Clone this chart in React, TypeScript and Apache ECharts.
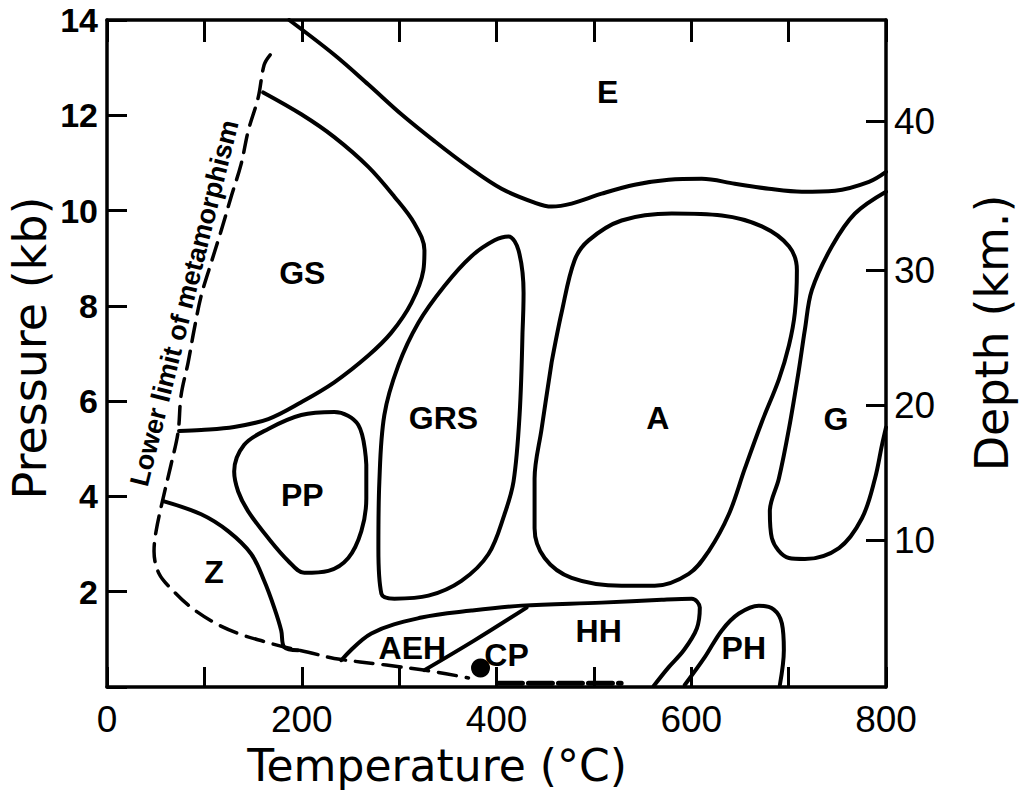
import React, { useEffect, useRef } from "react";
import * as echarts from "echarts";

// ---- data (Temperature °C, Pressure kb) ----
const lowerLimit: number[][] = [
  [167.6, 13.27], [161.4, 13.06], [155.3, 12.375], [145, 11.67], [137.8, 10.98],
  [127.5, 10.29], [117.3, 9.58], [106.9, 8.9], [96.7, 8.21], [89.5, 7.5],
  [83.3, 6.81], [76.1, 6.125], [73, 5.35], [65.8, 4.67], [57.6, 3.96],
  [50.4, 3.27], [48.3, 2.85], [53.5, 2.375], [67.9, 2.02], [86.4, 1.67],
  [112.1, 1.33], [137.8, 1.1], [160.4, 0.96], [184, 0.83], [206.7, 0.73],
  [233.4, 0.6], [286.9, 0.46], [333.2, 0.33], [371.2, 0.19],
];
const bottomDashes: number[][] = [[402, 0.08], [528, 0.08]];
const cpDot: number[][] = [[383.6, 0.4]];

const curveE: number[][] = [
  [187.1, 14.0], [233.4, 13.271], [268.4, 12.646], [302.3, 12.021], [336.3, 11.458],
  [371.2, 10.917], [405.2, 10.458], [439.1, 10.167], [456.6, 10.083], [477.1, 10.146],
  [508.0, 10.354], [541.9, 10.542], [576.9, 10.646], [610.8, 10.667], [644.7, 10.563],
  [679.7, 10.458], [713.6, 10.396], [747.6, 10.417], [782.5, 10.604], [800, 10.813],
];
const curveGS: number[][] = [
  [160.4, 12.479], [199.5, 12.021], [233.4, 11.542], [268.4, 10.917], [295.1, 10.292],
  [315.7, 9.729], [326.0, 9.167], [324.9, 8.75], [312.6, 8.063], [292.0, 7.438],
  [268.4, 6.958], [233.4, 6.396], [199.5, 5.979], [165.6, 5.625], [130.6, 5.458],
  [96.7, 5.396], [74.0, 5.375],
];
const curveZ: number[][] = [
  [58.6, 3.896], [96.7, 3.625], [124.4, 3.271], [148.1, 2.792], [161.4, 2.229],
  [171.7, 1.667], [178.9, 1.188], [182.0, 0.833], [196.4, 0.771],
];
const loopPP: number[][] = [
  [266.3, 4.667], [266.3, 3.958], [261.2, 3.271], [247.8, 2.708], [227.3, 2.438],
  [202.6, 2.396], [186.1, 2.646], [165.6, 3.125], [145.0, 3.688], [134.7, 4.104],
  [130.6, 4.521], [140.9, 5.083], [165.6, 5.417], [199.5, 5.708], [233.4, 5.771],
  [258.1, 5.5], [266.3, 4.667],
];
const loopGRS: number[][] = [
  [426.7, 7.438], [423.7, 5.708], [417.5, 4.313], [408.2, 3.625], [391.8, 2.792],
  [364.0, 2.229], [330.1, 1.917], [295.1, 1.854], [281.8, 1.958], [278.7, 2.917],
  [279.7, 4.313], [284.8, 5.708], [299.2, 6.75], [319.8, 7.646], [346.5, 8.417],
  [374.3, 9.042], [398.0, 9.375], [412.3, 9.458], [422.6, 9.167], [427.8, 8.271],
  [426.7, 7.438],
];
const loopA: number[][] = [
  [456.6, 6.813], [466.8, 7.854], [480.2, 8.958], [494.6, 9.375], [528.5, 9.792],
  [580.0, 9.938], [631.4, 9.896], [672.5, 9.667], [700.3, 9.25], [708.5, 8.75],
  [706.4, 7.854], [700.3, 7.167], [690.0, 6.458], [672.5, 5.563], [655.0, 4.583],
  [638.6, 3.625], [618.0, 2.854], [597.4, 2.375], [562.5, 2.125], [528.5, 2.125],
  [477.1, 2.292], [449.4, 2.708], [439.1, 3.333], [439.1, 4.375], [446.3, 5.417],
  [456.6, 6.813],
];
const curveG: number[][] = [
  [800, 10.396], [768.1, 9.938], [744.5, 9.25], [723.9, 8.333], [716.7, 7.5],
  [710.6, 6.667], [700.3, 5.417], [690.0, 4.375], [680.7, 3.688], [682.8, 3.125],
  [700.3, 2.708], [716.7, 2.688], [751.7, 2.917], [775.3, 3.542], [788.7, 4.375],
  [795.9, 5.083], [800, 5.45],
];
const curveHH: number[][] = [
  [240.6, 0.5625], [271.5, 1.125], [322.9, 1.458], [374.3, 1.604], [425.7, 1.708],
  [508.0, 1.771], [569.7, 1.833], [600.5, 1.854], [608.8, 1.667], [605.7, 1.229],
  [592.3, 0.771], [576.9, 0.417], [561.4, 0.021],
];
const lineAEHCP: number[][] = [[326.0, 0.354], [377.4, 0.979], [430.9, 1.667]];
const curvePH: number[][] = [
  [593.3, 0.042], [613.9, 0.625], [631.4, 1.188], [648.9, 1.542], [669.4, 1.708],
  [684.8, 1.625], [693.1, 1.333], [695.1, 0.771], [691.0, 0.042],
];

const faciesNames = ["E", "GS", "GRS", "A", "G", "PP", "Z", "AEH", "CP", "HH", "PH"];
const faciesT = [514.1, 200.5, 345.5, 565.6, 748.7, 200.5, 110, 313.6, 410.3, 504.9, 654];
const faciesP = [12.48, 8.69, 5.65, 5.65, 5.625, 4.02, 2.42, 0.81, 0.67, 1.17, 0.81];

const lowerLimitLabel = "Lower limit of metamorphism";
const lowerLimitLabelAt: number[] = [79.5, 8.06];

const depthKm = [10, 20, 30, 40];
const depthKb = [3.083, 5.917, 8.75, 11.875];

const FONT = "'Liberation Sans', 'DejaVu Sans', sans-serif";
const NARROW = "'Liberation Sans Narrow', 'Liberation Sans', sans-serif";
const TITLE_FONT = "'DejaVu Sans', sans-serif";

function curve(data: number[][], width = 4, type: any = "solid", smooth: number | boolean = 0.35) {
  return {
    type: "line",
    data,
    xAxisIndex: 0,
    yAxisIndex: 0,
    symbol: "none",
    showSymbol: false,
    smooth,
    silent: true,
    lineStyle: { color: "#000", width, type, cap: "round", join: "round" },
    z: 3,
  };
}

export default function App() {
  const ref = useRef<HTMLDivElement>(null);

  useEffect(() => {
    if (!ref.current) return;
    const chart = echarts.init(ref.current, undefined, { renderer: "svg" });
    const axisLine = { show: true, onZero: false, lineStyle: { color: "#000", width: 3.5 } };
    const tick = { show: true, inside: true, length: 20, lineStyle: { color: "#000", width: 3 } };

    const option: any = {
      animation: false,
      backgroundColor: "#fff",
      grid: { left: 107, top: 15, width: 779, height: 672, containLabel: false },
      xAxis: [
        {
          type: "value",
          position: "bottom",
          min: 0,
          max: 800,
          interval: 100,
          axisLine,
          axisTick: tick,
          splitLine: { show: false },
          axisLabel: {
            margin: 17,
            fontFamily: FONT,
            fontSize: 37,
            lineHeight: 30,
            color: "#000",
            formatter: (v: number) => (v % 200 === 0 ? String(v) : ""),
          },
        },
        {
          type: "value",
          position: "top",
          min: 0,
          max: 800,
          interval: 100,
          axisLine,
          axisTick: { ...tick, length: 22 },
          splitLine: { show: false },
          axisLabel: { show: false },
        },
      ],
      yAxis: [
        {
          type: "value",
          position: "left",
          min: 0,
          max: 14,
          interval: 2,
          axisLine,
          axisTick: tick,
          splitLine: { show: false },
          axisLabel: {
            margin: 9,
            fontFamily: FONT,
            fontWeight: "bold",
            fontSize: 34,
            lineHeight: 28,
            padding: [12, 0, 0, 0],
            color: "#000",
            formatter: (v: number) => (v === 0 ? "" : String(v)),
          },
        },
        {
          type: "value",
          position: "right",
          min: 0,
          max: 14,
          axisLine,
          axisTick: { ...tick, customValues: depthKb },
          splitLine: { show: false },
          axisLabel: {
            margin: 8,
            fontFamily: FONT,
            fontSize: 37,
            lineHeight: 30,
            padding: [10, 0, 0, 0],
            color: "#000",
            customValues: depthKb,
            formatter: (v: number) => {
              let best = 0;
              depthKb.forEach((p, i) => {
                if (Math.abs(p - v) < Math.abs(depthKb[best] - v)) best = i;
              });
              return String(depthKm[best]);
            },
          },
        },
      ],
      graphic: [
        {
          type: "text",
          x: 30,
          y: 348,
          rotation: Math.PI / 2,
          style: {
            text: "Pressure (kb)",
            font: `46px ${TITLE_FONT}`,
            fill: "#000",
            align: "center",
            verticalAlign: "middle",
          },
        },
        {
          type: "text",
          x: 437,
          y: 765,
          style: {
            text: "Temperature (°C)",
            font: `44px ${TITLE_FONT}`,
            fill: "#000",
            align: "center",
            verticalAlign: "middle",
          },
        },
        {
          type: "text",
          x: 992,
          y: 333,
          rotation: Math.PI / 2,
          style: {
            text: "Depth (km.)",
            font: `46px ${TITLE_FONT}`,
            fill: "#000",
            align: "center",
            verticalAlign: "middle",
          },
        },
      ],
      series: [
        curve(lowerLimit, 3.5, [18, 10]),
        curve(bottomDashes, 5, [24, 6], false),
        curve(curveE),
        curve(curveGS),
        curve(curveZ),
        curve(loopPP),
        curve(loopGRS),
        curve(loopA),
        curve(curveG),
        curve(curveHH),
        curve(lineAEHCP),
        curve(curvePH),
        {
          type: "scatter",
          data: cpDot,
          symbol: "circle",
          symbolSize: 19,
          itemStyle: { color: "#000", opacity: 1 },
          silent: true,
          z: 4,
        },
        {
          type: "scatter",
          data: faciesNames.map((n, i) => [faciesT[i], faciesP[i], n]),
          symbolSize: 1,
          itemStyle: { color: "#fff", opacity: 0 },
          silent: true,
          z: 5,
          label: {
            show: true,
            position: "inside",
            align: "center",
            verticalAlign: "middle",
            fontFamily: NARROW,
            fontWeight: "bold",
            fontSize: 32,
            color: "#000",
            opacity: 1,
            formatter: (p: any) => p.value[2],
          },
        },
        {
          type: "scatter",
          data: [[lowerLimitLabelAt[0], lowerLimitLabelAt[1], lowerLimitLabel]],
          symbolSize: 1,
          itemStyle: { color: "#fff", opacity: 0 },
          silent: true,
          z: 5,
          label: {
            show: true,
            position: "inside",
            align: "center",
            verticalAlign: "middle",
            rotate: 76,
            fontFamily: FONT,
            fontWeight: "bold",
            fontSize: 27,
            color: "#000",
            opacity: 1,
            formatter: (p: any) => p.value[2],
          },
        },
      ],
    };
    chart.setOption(option);
    return () => chart.dispose();
  }, []);

  return (
    <div
      ref={ref}
      style={{ position: "absolute", left: 0, top: 0, width: 1022, height: 791, background: "#fff" }}
    />
  );
}
